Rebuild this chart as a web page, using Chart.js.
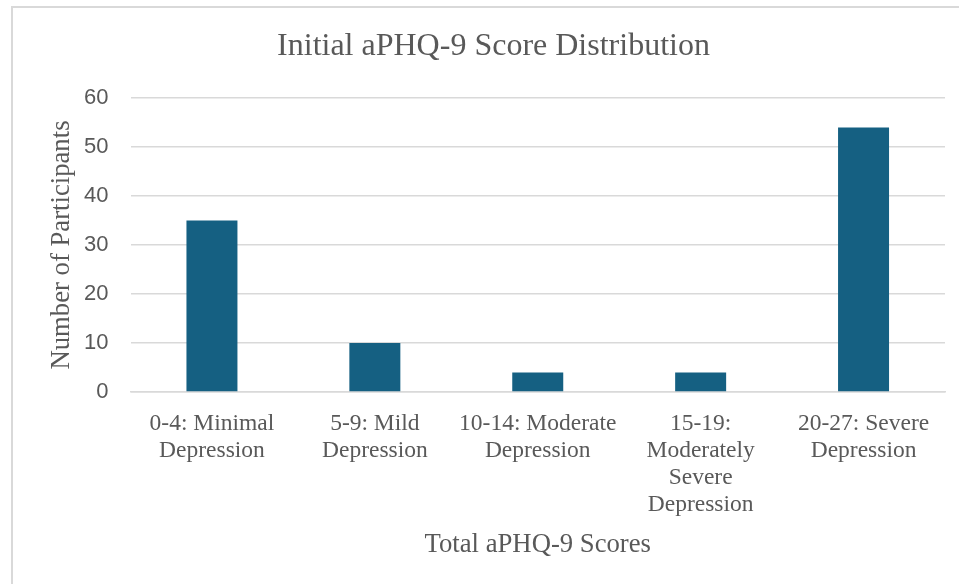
<!DOCTYPE html>
<html>
<head>
<meta charset="utf-8">
<script src="https://cdn.jsdelivr.net/npm/chart.js@4/dist/chart.umd.min.js"></script>
<style>
  html, body { margin: 0; padding: 0; background: #ffffff; overflow: hidden; }
  #wrap { position: relative; width: 959px; height: 584px; }
  #frame { position: absolute; left: 11px; top: 6px; width: 960px; height: 600px;
           border-left: 2px solid #d9d9d9; border-top: 2px solid #d9d9d9; pointer-events: none; }
  canvas { position: absolute; left: 0; top: 0; }
</style>
</head>
<body>
<div id="wrap">
  <canvas id="c" width="959" height="584"></canvas>
  <div id="frame"></div>
</div>
<script>
const categories = [
  ["0-4: Minimal", "Depression"],
  ["5-9: Mild", "Depression"],
  ["10-14: Moderate", "Depression"],
  ["15-19:", "Moderately", "Severe", "Depression"],
  ["20-27: Severe", "Depression"]
];
const participants = [35, 10, 4, 4, 54];
const yTicks = [0, 10, 20, 30, 40, 50, 60];

const chartTitle = "Initial aPHQ-9 Score Distribution";
const xTitle = "Total aPHQ-9 Scores";
const yTitle = "Number of Participants";

const textColor = "#595959";
const gridColor = "#d9d9d9";
const serif = "'Liberation Serif', 'Times New Roman', serif";
const sans = "'Liberation Sans', Arial, sans-serif";

new Chart(document.getElementById("c"), {
  type: "bar",
  data: {
    labels: categories,
    datasets: [{
      label: "Participants",
      data: participants,
      backgroundColor: "#156082",
      borderWidth: 0,
      categoryPercentage: 1,
      barPercentage: 0.313
    }]
  },
  options: {
    responsive: false,
    animation: false,
    devicePixelRatio: 1,
    layout: { padding: { left: 42, right: 14, top: 10, bottom: 19 } },
    plugins: {
      legend: { display: false },
      tooltip: { enabled: false },
      title: {
        display: true,
        text: chartTitle,
        color: textColor,
        font: { family: serif, size: 32, weight: "normal" },
        padding: { top: 17, bottom: 32.6 }
      }
    },
    scales: {
      x: {
        afterFit: (s) => { s.height = 173; },
        grid: { display: false, drawTicks: false },
        border: { display: true, color: gridColor, width: 1.5 },
        ticks: {
          color: textColor,
          font: { family: serif, size: 23.5, lineHeight: 27 / 23.5 },
          padding: 18.5,
          maxRotation: 0,
          minRotation: 0,
          autoSkip: false
        },
        title: {
          display: true,
          text: xTitle,
          color: textColor,
          font: { family: serif, size: 26.7 },
          padding: { top: 4, bottom: 4 }
        }
      },
      y: {
        min: 0,
        max: 60,
        afterFit: (s) => { s.width = 88.5; },
        afterBuildTicks: (scale) => { scale.ticks = yTicks.map(v => ({ value: v })); },
        grid: { color: gridColor, lineWidth: 1.5, drawTicks: false },
        border: { display: false },
        ticks: {
          color: textColor,
          font: { family: sans, size: 22 },
          padding: 22
        },
        title: {
          display: true,
          text: yTitle,
          color: textColor,
          font: { family: serif, size: 26.7 },
          padding: { top: 4, bottom: 4 }
        }
      }
    }
  }
});
</script>
</body>
</html>
